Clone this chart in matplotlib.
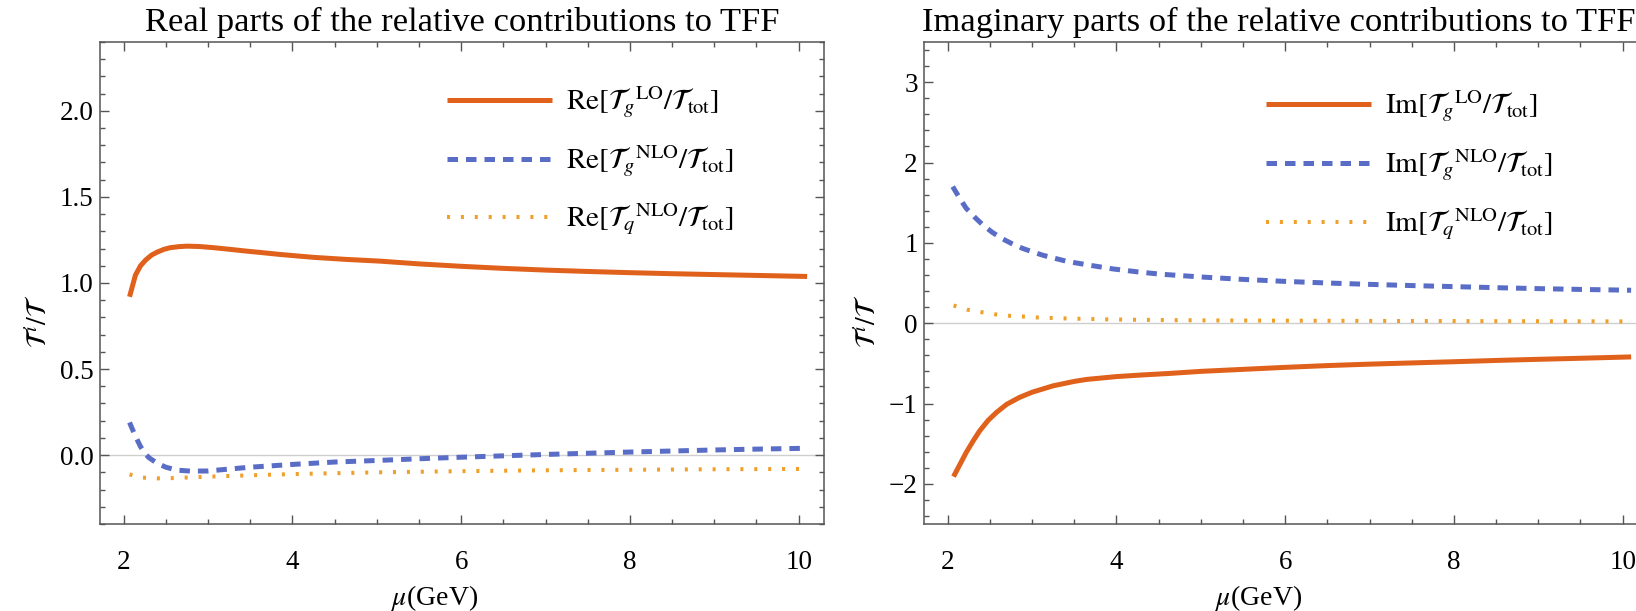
import numpy as np
import matplotlib
matplotlib.use("Agg")
import matplotlib.pyplot as plt
from matplotlib.ticker import MultipleLocator

plt.rcParams['font.family'] = ['Liberation Serif', 'DejaVu Serif']
plt.rcParams['mathtext.fontset'] = 'stix'
plt.rcParams['axes.unicode_minus'] = True

# --- data ---
# real parts
re_lo_x = [2.07, 2.14, 2.2, 2.26, 2.33, 2.4, 2.48, 2.55, 2.65, 2.75, 2.9, 3.07, 3.25, 3.46,
           3.65, 3.85, 4.25, 4.64, 5.04, 5.5, 6.0, 6.5, 7.0, 7.5, 8.0, 8.5, 9.0, 9.5, 10.1]
re_lo_y = [0.92, 1.046, 1.10, 1.133, 1.162, 1.18, 1.196, 1.205, 1.211, 1.214, 1.212, 1.205, 1.196, 1.185,
           1.176, 1.166, 1.149, 1.137, 1.127, 1.111, 1.097, 1.085, 1.075, 1.067, 1.06, 1.054, 1.049, 1.044, 1.038]

re_gnlo_x = [2.07, 2.1, 2.15, 2.2, 2.25, 2.3, 2.4, 2.5, 2.63, 2.8, 3.0, 3.2, 3.5, 4.0, 4.5, 5.0,
             5.5, 6.0, 6.5, 7.0, 7.5, 8.0, 8.5, 9.0, 9.5, 10.1]
re_gnlo_y = [0.19, 0.155, 0.1, 0.05, 0.012, -0.015, -0.048, -0.07, -0.087, -0.093, -0.092, -0.083, -0.07,
             -0.054, -0.04, -0.031, -0.021, -0.012, -0.004, 0.004, 0.011, 0.018, 0.024, 0.03, 0.035, 0.04]

re_qnlo_x = [2.07, 2.2, 2.4, 2.6, 3.0, 3.5, 4.0, 5.0, 6.0, 7.0, 8.0, 9.0, 10.1]
re_qnlo_y = [-0.112, -0.13, -0.135, -0.133, -0.125, -0.117, -0.11, -0.1, -0.093, -0.088, -0.085, -0.082, -0.08]

# imaginary parts
im_lo_x = [2.07, 2.15, 2.22, 2.3, 2.38, 2.48, 2.58, 2.7, 2.85, 3.0, 3.25, 3.5, 3.65, 4.0, 4.3, 4.64,
           5.0, 5.5, 6.0, 6.5, 7.0, 7.5, 8.0, 8.57, 9.0, 9.5, 10.1]
im_lo_y = [-1.91, -1.75, -1.61, -1.47, -1.34, -1.21, -1.11, -1.01, -0.925, -0.86, -0.78, -0.725, -0.70,
           -0.665, -0.645, -0.625, -0.60, -0.575, -0.55, -0.528, -0.51, -0.495, -0.48, -0.462, -0.45,
           -0.437, -0.42]

im_gnlo_x = [2.06, 2.14, 2.22, 2.32, 2.42, 2.53, 2.65, 2.77, 2.89, 3.0, 3.13, 3.41, 3.69, 3.96, 4.24,
             4.52, 5.0, 5.5, 6.0, 6.5, 7.0, 7.5, 8.0, 8.57, 9.0, 9.5, 10.1]
im_gnlo_y = [1.70, 1.56, 1.43, 1.32, 1.22, 1.13, 1.05, 0.985, 0.93, 0.89, 0.845, 0.77, 0.72, 0.675, 0.64,
             0.61, 0.575, 0.545, 0.52, 0.50, 0.483, 0.468, 0.455, 0.44, 0.43, 0.42, 0.41]

im_qnlo_x = [2.07, 2.24, 2.4, 2.58, 2.74, 2.92, 3.08, 3.26, 3.42, 3.6, 3.93, 4.27, 4.6, 5.0, 6.0,
             7.0, 8.0, 9.0, 10.1]
im_qnlo_y = [0.22, 0.166, 0.137, 0.108, 0.091, 0.081, 0.07, 0.064, 0.058, 0.054, 0.046, 0.042, 0.038,
             0.035, 0.031, 0.028, 0.026, 0.024, 0.022]

orange = '#E0611B'
blue = '#5A6DC6'
yellow = '#F0A02A'

re_labels = [r'$\mathrm{Re}[{\mathcal{T}_g}^{\mathrm{LO}}/\mathcal{T}_{\mathrm{tot}}]$',
             r'$\mathrm{Re}[{\mathcal{T}_g}^{\mathrm{NLO}}/\mathcal{T}_{\mathrm{tot}}]$',
             r'$\mathrm{Re}[{\mathcal{T}_q}^{\mathrm{NLO}}/\mathcal{T}_{\mathrm{tot}}]$']
im_labels = [s.replace('Re', 'Im') for s in re_labels]

fig = plt.figure(figsize=(16.36, 6.11), dpi=100)
W, H = 1636, 611
ax1 = fig.add_axes([100 / W, 1 - 524 / H, 724 / W, 482 / H])
ax2 = fig.add_axes([924 / W, 1 - 524 / H, 724 / W, 482 / H])


def style(ax, ylim, ymaj, ymin, fmt):
    ax.set_xlim(1.72, 10.3)
    ax.set_ylim(*ylim)
    ax.axhline(0, color='#cfcfcf', lw=1.0, zorder=0)
    ax.xaxis.set_major_locator(MultipleLocator(2))
    ax.xaxis.set_minor_locator(MultipleLocator(0.5))
    ax.yaxis.set_major_locator(MultipleLocator(ymaj))
    ax.yaxis.set_minor_locator(MultipleLocator(ymin))
    ax.yaxis.set_major_formatter(fmt)
    ax.tick_params(which='both', direction='in', top=True, right=True, color='#555555', width=1.0)
    ax.tick_params(which='major', length=6.5, labelsize=19.5)
    ax.tick_params(which='minor', length=3.7)
    ax.tick_params(axis='x', pad=19)
    ax.tick_params(axis='y', pad=4.5)
    for sp in ax.spines.values():
        sp.set_color('#555555')
        sp.set_linewidth(1.1)
    ax.set_xlabel(r'$\mu$(GeV)', fontsize=20)
    ax.xaxis.set_label_coords(0.462, -0.122)
    ax.set_ylabel(r'$\mathcal{T}^{\,i}/\mathcal{T}$', fontsize=20)


def draw(ax, xs, ys, labels):
    ax.plot(xs[0], ys[0], color=orange, lw=3.6, solid_capstyle='butt', label=labels[0])
    ax.plot(xs[1], ys[1], color=blue, lw=3.6, linestyle=(0, (2.1, 1.6)), label=labels[1])
    ax.plot(xs[2], ys[2], color=yellow, lw=2.9, linestyle=(0, (0.75, 2.7)), label=labels[2])


draw(ax1, [re_lo_x, re_gnlo_x, re_qnlo_x], [re_lo_y, re_gnlo_y, re_qnlo_y], re_labels)
style(ax1, (-0.4, 2.4), 0.5, 0.1, '{x:.1f}')
ax1.yaxis.set_label_coords(-0.066, 0.42)
ax1.set_title('Real parts of the relative contributions to TFF', fontsize=24.8, pad=8)
ax1.legend(loc='center left', bbox_to_anchor=(0.479, 0.753), frameon=False, fontsize=21,
           handlelength=3.6, handletextpad=0.48, labelspacing=0.8, borderpad=0, borderaxespad=0)

draw(ax2, [im_lo_x, im_gnlo_x, im_qnlo_x], [im_lo_y, im_gnlo_y, im_qnlo_y], im_labels)
style(ax2, (-2.5, 3.5), 1, 0.2, lambda v, p: f'{int(round(v))}'.replace('-', '\u2212'))
ax2.yaxis.set_label_coords(-0.058, 0.42)
ax2.set_title('Imaginary parts of the relative contributions to TFF', fontsize=24.8, pad=8, x=0.49)
ax2.legend(loc='center left', bbox_to_anchor=(0.472, 0.744), frameon=False, fontsize=21,
           handlelength=3.6, handletextpad=0.48, labelspacing=0.8, borderpad=0, borderaxespad=0)

fig.savefig('out.png', dpi=100)
